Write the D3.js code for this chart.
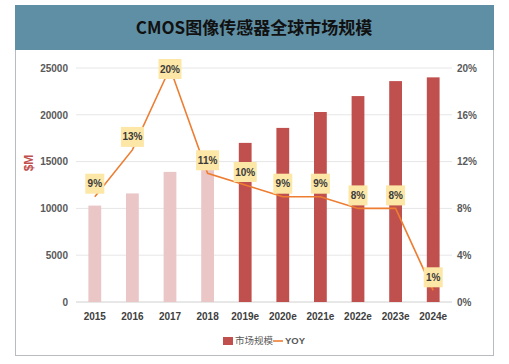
<!DOCTYPE html>
<html>
<head>
<meta charset="utf-8">
<script src="https://cdn.jsdelivr.net/npm/d3@7"></script>
<style>
  body { margin: 0; background: #fff; }
  svg { display: block; }
</style>
</head>
<body>
<svg></svg>
<script>
'use strict';
// chart data
var years = ['2015', '2016', '2017', '2018', '2019e', '2020e', '2021e', '2022e', '2023e', '2024e'];
var marketSize = [10300, 11600, 13900, 15000, 17000, 18600, 20300, 22000, 23600, 24000];
var yoy = [9, 13, 20, 11, 10, 9, 9, 8, 8, 1];
var leftTicks = [0, 5000, 10000, 15000, 20000, 25000];
var rightTicks = [0, 4, 8, 12, 16, 20];

var canvasWidth = 509, canvasHeight = 364;
var margin = { top: 68, right: 57, bottom: 62, left: 76 };
var width = canvasWidth - margin.left - margin.right;
var height = canvasHeight - margin.top - margin.bottom;

var svg = d3.select('svg')
    .attr('width', canvasWidth)
    .attr('height', canvasHeight);

// frame + title bar
svg.append('rect')
    .attr('x', 15.5).attr('y', 5.5)
    .attr('width', 478).attr('height', 350)
    .attr('fill', '#fff').attr('stroke', '#b8bcc0');
svg.append('rect')
    .attr('x', 15).attr('y', 5)
    .attr('width', 479).attr('height', 45)
    .attr('fill', '#5f8fa4');
svg.append('text')
    .attr('x', 254).attr('y', 34)
    .attr('text-anchor', 'middle')
    .attr('font-family', '"Noto Sans CJK SC", sans-serif')
    .attr('font-weight', 'bold')
    .attr('font-size', 17)
    .attr('fill', '#111')
    .text('CMOS图像传感器全球市场规模');

var g = svg.append('g')
    .attr('transform', 'translate(' + margin.left + ',' + margin.top + ')');

var xScale = d3.scaleBand().domain(years).range([0, width]).paddingInner(0.66).paddingOuter(0.33);
var yScale = d3.scaleLinear().domain([0, 25000]).range([height, 0]);
var y2Scale = d3.scaleLinear().domain([0, 20]).range([height, 0]);

// gridlines
g.selectAll('.grid').data(leftTicks).enter().append('line')
    .attr('x1', 0).attr('x2', width)
    .attr('y1', function (d) { return yScale(d); })
    .attr('y2', function (d) { return yScale(d); })
    .attr('stroke', function (d) { return d === 0 ? '#d0d0d0' : '#e6e6e6'; })
    .attr('stroke-width', 1);

var tickFont = '"Liberation Sans Narrow", "Liberation Sans", sans-serif';

// left axis
var leftAxis = g.append('g').call(d3.axisLeft(yScale).tickValues(leftTicks).tickSize(0).tickPadding(8)
    .tickFormat(d3.format('d')));
leftAxis.select('.domain').remove();
leftAxis.selectAll('text')
    .attr('font-family', tickFont).attr('font-size', 10).attr('font-weight', 'bold').attr('fill', '#595959');

// right axis
var rightAxis = g.append('g').attr('transform', 'translate(' + width + ',0)')
    .call(d3.axisRight(y2Scale).tickValues(rightTicks).tickSize(0).tickPadding(5)
        .tickFormat(function (d) { return d + '%'; }));
rightAxis.select('.domain').remove();
rightAxis.selectAll('text')
    .attr('font-family', tickFont).attr('font-size', 10).attr('font-weight', 'bold').attr('fill', '#595959');

// x axis
var xAxis = g.append('g').attr('transform', 'translate(0,' + height + ')')
    .call(d3.axisBottom(xScale).tickSize(0).tickPadding(11));
xAxis.select('.domain').remove();
xAxis.selectAll('text')
    .attr('font-family', tickFont).attr('font-size', 10).attr('font-weight', 'bold').attr('fill', '#404040');

// y label
svg.append('text')
    .attr('transform', 'translate(33,163) rotate(-90)')
    .attr('text-anchor', 'middle')
    .attr('font-family', '"Liberation Sans", sans-serif')
    .attr('font-weight', 'bold')
    .attr('font-size', 12)
    .attr('fill', '#c0504d')
    .text('$M');

// bars
g.selectAll('.bar').data(marketSize).enter().append('rect')
    .attr('x', function (d, i) { return xScale(years[i]); })
    .attr('y', function (d) { return yScale(d); })
    .attr('width', xScale.bandwidth())
    .attr('height', function (d) { return height - yScale(d); })
    .attr('fill', function (d, i) { return i < 4 ? '#eac6c7' : '#c0504d'; });

// yoy line
var line = d3.line()
    .x(function (d, i) { return xScale(years[i]) + xScale.bandwidth() / 2; })
    .y(function (d) { return y2Scale(d); });
g.append('path').datum(yoy)
    .attr('d', line)
    .attr('fill', 'none')
    .attr('stroke', '#ed7d31')
    .attr('stroke-width', 1.6);

// value labels
var labels = g.selectAll('.lbl').data(yoy).enter().append('g')
    .attr('transform', function (d, i) {
        var cx = xScale(years[i]) + xScale.bandwidth() / 2;
        var cy = Math.max(y2Scale(d) - 13, 1);
        return 'translate(' + cx + ',' + cy + ')';
    });
labels.append('rect')
    .attr('x', function (d) { return d >= 10 ? -11.5 : -9.5; })
    .attr('y', -10)
    .attr('width', function (d) { return d >= 10 ? 23 : 19; })
    .attr('height', 20)
    .attr('fill', '#fde7a6');
labels.append('text')
    .attr('text-anchor', 'middle')
    .attr('dy', '0.35em')
    .attr('font-family', tickFont)
    .attr('font-size', 10)
    .attr('font-weight', 'bold')
    .attr('fill', '#3a3a3a')
    .text(function (d) { return d + '%'; });

// legend
var legend = svg.append('g').attr('transform', 'translate(223,341)');
legend.append('rect').attr('x', 0).attr('y', -4).attr('width', 10).attr('height', 8).attr('fill', '#c0504d');
legend.append('text').attr('x', 12).attr('dy', '0.35em')
    .attr('font-family', '"Noto Sans CJK SC", sans-serif').attr('font-size', 9.5).attr('fill', '#595959')
    .text('市场规模');
legend.append('line').attr('x1', 50).attr('x2', 60).attr('y1', 0).attr('y2', 0)
    .attr('stroke', '#ed7d31').attr('stroke-width', 1.6);
legend.append('text').attr('x', 62).attr('dy', '0.35em')
    .attr('font-family', tickFont).attr('font-size', 9.5).attr('font-weight', 'bold').attr('fill', '#595959')
    .text('YOY');
</script>
</body>
</html>
